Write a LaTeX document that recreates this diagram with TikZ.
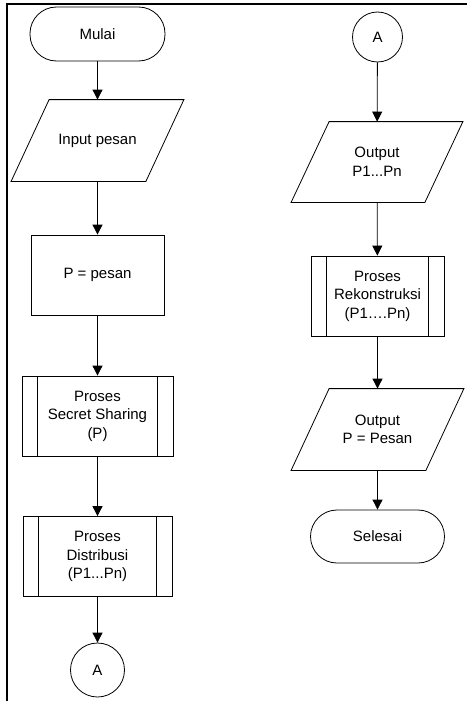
\documentclass[tikz,border=0pt]{standalone}
\usepackage{fontspec}
\setmainfont{Liberation Sans}
\usetikzlibrary{arrows.meta}
\begin{document}
\begin{tikzpicture}[x=1pt,y=-1pt,
  every node/.style={font=\fontsize{15}{18.5}\selectfont, align=center, inner sep=0pt, line width=0.8pt},
  terminal/.style={draw, rectangle, rounded corners=26.5pt, minimum width=134pt, minimum height=53pt},
  io/.style={rectangle, minimum width=134pt, minimum height=81pt},
  procbox/.style={draw, rectangle, minimum width=133pt, minimum height=80pt},
  subproc/.style={draw, rectangle, minimum width=#1, minimum height=80pt,
    path picture={\draw ([xshift=15.5pt]path picture bounding box.north west) -- ([xshift=15.5pt]path picture bounding box.south west)
      ([xshift=-15.5pt]path picture bounding box.north east) -- ([xshift=-15.5pt]path picture bounding box.south east);}},
  connector/.style={draw, circle, minimum size=#1},
  flow/.style={-{Triangle[length=10pt,width=10pt]}, line width=0.8pt}]
\useasboundingbox (0,0) rectangle (467,701);
\draw[line width=2pt] (7,701) -- (7,4) -- (467,4);

\node[terminal, minimum width=135pt, minimum height=54pt] (mulai) at (97.5,34) {Mulai};
\node[io] (input) at (97.5,140.5) {Input pesan};
\node[procbox] (assign) at (97.5,275) {P = pesan};
\node[subproc=151pt] (sharing) at (97.5,416) {Proses\\Secret Sharing\\(P)};
\node[subproc=149pt] (distribusi) at (97.5,556.5) {Proses\\Distribusi\\(P1...Pn)};
\node[connector=54pt] (outA) at (97.5,670) {A};

\node[connector=50pt] (inA) at (377.5,37) {A};
\node[io, minimum width=133pt, minimum height=80pt] (outpn) at (377,162) {Output\\P1...Pn};
\node[subproc=133pt] (rekon) at (377.5,296) {Proses\\Rekonstruksi\\(P1\dots.Pn)};
\node[io] (outp) at (377.5,429.5) {Output\\P = Pesan};
\node[terminal] (selesai) at (377.5,536.5) {Selesai};

\foreach \n in {input,outpn,outp}
  \draw[line width=0.8pt] ([xshift=19pt]\n.north west) -- ([xshift=19pt]\n.north east)
    -- ([xshift=-19pt]\n.south east) -- ([xshift=-19pt]\n.south west) -- cycle;

\draw[flow] (mulai) -- (input);
\draw[flow] (input) -- (assign);
\draw[flow] (assign) -- (sharing);
\draw[flow] (sharing) -- (distribusi);
\draw[flow] (distribusi) -- (outA);

\draw[flow] (inA) -- (outpn);
\draw[flow] (outpn) -- (rekon);
\draw[flow] (rekon) -- (outp);
\draw[flow] (outp) -- (selesai);
\end{tikzpicture}
\end{document}
